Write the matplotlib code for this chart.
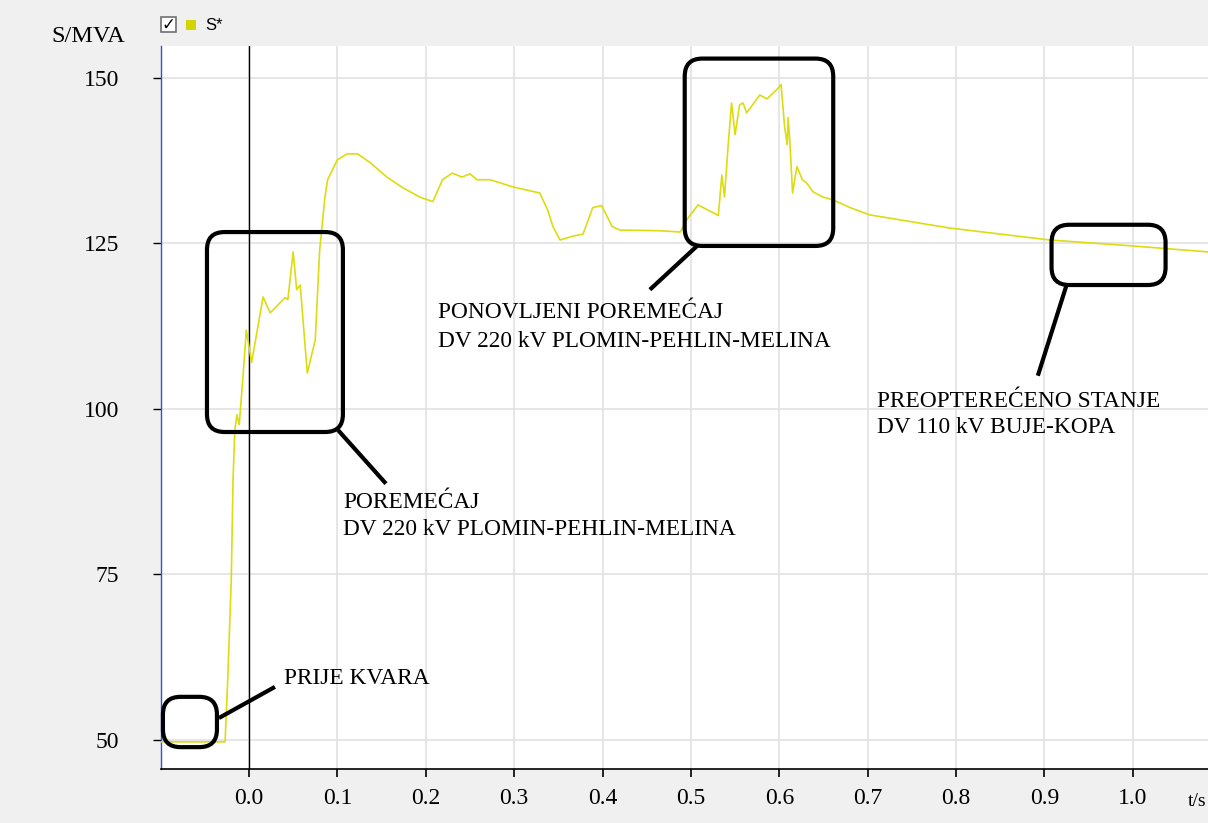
import numpy as np
import matplotlib.pyplot as plt
from matplotlib.patches import FancyBboxPatch, Rectangle

# vrijeme (s) i prividna snaga S* (MVA), ocitano sa slike
t = [-0.0995, -0.060, -0.027, -0.024, -0.020, -0.018, -0.016, -0.0136, -0.011, -0.007,
     -0.003, 0.003, 0.016, 0.024, 0.041, 0.044, 0.050, 0.054, 0.058, 0.066,
     0.075, 0.080, 0.086, 0.089, 0.100, 0.111, 0.123, 0.137, 0.156, 0.174,
     0.193, 0.208, 0.219, 0.230, 0.241, 0.250, 0.258, 0.273, 0.299, 0.329,
     0.338, 0.344, 0.352, 0.367, 0.378, 0.389, 0.399, 0.411, 0.420, 0.465,
     0.488, 0.495, 0.508, 0.531, 0.535, 0.538, 0.542, 0.546, 0.550, 0.555,
     0.559, 0.563, 0.578, 0.586, 0.600, 0.602, 0.606, 0.609, 0.610, 0.612,
     0.615, 0.620, 0.626, 0.631, 0.638, 0.649, 0.660, 0.680, 0.702, 0.793,
     0.906, 1.000, 1.085]
S = [49.7, 49.7, 49.7, 59.1, 74.2, 89.3, 96.8, 99.1, 97.6, 104.4,
     111.9, 107.0, 116.9, 114.5, 116.8, 116.5, 123.7, 118.0, 118.7, 105.4,
     110.4, 124.0, 132.0, 134.6, 137.6, 138.5, 138.5, 137.2, 135.0, 133.4,
     132.0, 131.3, 134.6, 135.6, 135.0, 135.5, 134.6, 134.6, 133.5, 132.6,
     130.0, 127.5, 125.5, 126.1, 126.4, 130.4, 130.7, 127.5, 127.0, 126.9,
     126.7, 128.5, 130.8, 129.2, 135.3, 132.0, 139.6, 146.2, 141.4, 145.9,
     146.2, 144.7, 147.4, 146.8, 148.6, 149.0, 142.6, 139.9, 144.0, 140.2,
     132.6, 136.6, 134.6, 134.1, 132.8, 132.0, 131.6, 130.4, 129.3, 127.3,
     125.5, 124.6, 123.7]

x_ticks = [0.0, 0.1, 0.2, 0.3, 0.4, 0.5, 0.6, 0.7, 0.8, 0.9, 1.0]
y_ticks = [50, 75, 100, 125, 150]

# okviri: (t0, t1, S0, S1)
boxes = [(-0.0973, -0.0362, 48.9, 56.5),
         (-0.0475, 0.1063, 96.5, 126.7),
         (0.493, 0.661, 124.6, 152.9),
         (0.908, 1.037, 118.7, 127.8)]
# linije od okvira do teksta
leaders = [((-0.034, 0.0294), (53.3, 58.0)),
           ((0.1007, 0.155), (96.8, 88.7)),
           ((0.507, 0.4536), (124.6, 118.0)),
           ((0.925, 0.8925), (118.7, 105.0))]
# tekst, jedan redak po stavci (t, S na osnovnoj liniji)
labels = [(0.0396, 58.4, "PRIJE KVARA"),
          (0.1063, 85.0, "POREMEĆAJ"),
          (0.1063, 80.9, "DV 220 kV PLOMIN-PEHLIN-MELINA"),
          (0.2138, 113.7, "PONOVLJENI POREMEĆAJ"),
          (0.2138, 109.3, "DV 220 kV PLOMIN-PEHLIN-MELINA"),
          (0.7104, 100.3, "PREOPTEREĆENO STANJE"),
          (0.7104, 96.35, "DV 110 kV BUJE-KOPA")]

bg = '#f0f0f0'
yellow = '#dcdc10'
serif = 'Liberation Serif'

fig = plt.figure(figsize=(12.08, 8.23), dpi=100, facecolor=bg)
ax = fig.add_axes([161/1208, 54/823, 1 - 161/1208, (769-46)/823])
ax.set_facecolor('white')

ax.plot(t, S, color=yellow, lw=1.2, zorder=3)
ax.axvline(0, color='black', lw=1.0, zorder=2)

ax.set_xlim(-0.0995, 1.085)
ax.set_ylim(45.6, 154.8)
ax.set_xticks(x_ticks)
ax.set_xticklabels(['%.1f' % v for v in x_ticks], fontfamily=serif, fontsize=17)
ax.set_yticks(y_ticks)
ax.set_yticklabels([str(v) for v in y_ticks], fontfamily=serif, fontsize=17)
ax.tick_params(axis='x', length=6, width=1.2, pad=8, colors='black')
ax.tick_params(axis='y', length=6, width=1.0, pad=24)
ax.grid(True, color='#e2e2e2', lw=1.2)
ax.set_axisbelow(True)

for s in ['top', 'right']:
    ax.spines[s].set_visible(False)
ax.spines['left'].set_color('#3050e0')
ax.spines['left'].set_linewidth(1.0)
ax.spines['bottom'].set_color('black')
ax.spines['bottom'].set_linewidth(1.2)

# aspekt podaci/piksel za zaobljene kutove
asp = (109.2 / 723) / (1.1845 / 1047)
for (x0, x1, y0, y1) in boxes:
    p = FancyBboxPatch((x0, y0), x1 - x0, y1 - y0,
                       boxstyle='round,pad=0,rounding_size=0.02',
                       mutation_aspect=asp, fill=False, ec='black', lw=3,
                       zorder=5, clip_on=False)
    ax.add_patch(p)
for (xs, ys) in leaders:
    ax.plot(xs, ys, color='black', lw=3, zorder=5, solid_capstyle='butt')
for (x, y, s) in labels:
    ax.text(x, y, s, fontfamily=serif, fontsize=16.8, va='baseline', ha='left',
            zorder=6)

fig.text(88/1208, 1 - 37/823, 'S/MVA', fontfamily=serif, fontsize=17.5,
         ha='center', va='center')
fig.text(1197/1208, 1 - 801/823, 't/s', fontfamily=serif, fontsize=14,
         ha='center', va='center')

# legenda
fig.patches.append(Rectangle((161/1208, 1 - 32/823), 15/1208, 15/823,
                             transform=fig.transFigure, fc='white', ec='#707070',
                             lw=1.2))
fig.text(168.5/1208, 1 - 24.5/823, '✓', fontsize=12, ha='center', va='center',
         fontweight='bold')
fig.patches.append(Rectangle((186/1208, 1 - 30/823), 10/1208, 10/823,
                             transform=fig.transFigure, fc='#d4d400', ec='none'))
fig.text(205/1208, 1 - 25/823, 'S*', fontfamily='Liberation Sans', fontsize=12,
         ha='left', va='center')

fig.savefig('out.png', dpi=100, facecolor=bg)
